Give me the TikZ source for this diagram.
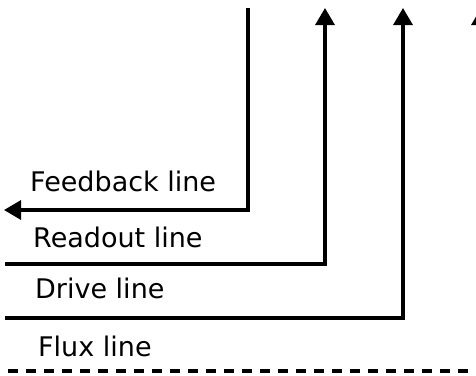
\documentclass[tikz,border=0pt]{standalone}
\usepackage{fontspec}
\setmainfont{DejaVu Sans}
\usetikzlibrary{arrows.meta}
\begin{document}
\begin{tikzpicture}[x=1pt,y=-1pt,
  wire/.style={line width=3.3pt},
  arr/.style={wire,-{Triangle[length=17pt,width=19pt]}},
  lbl/.style={anchor=base west,inner sep=0pt,font=\fontsize{27}{32}\selectfont}]
\useasboundingbox (0,0) rectangle (476,375);
\clip (0,0) rectangle (476,375);
% labels
\node[lbl] (fb) at (30,191) {Feedback line};
\node[lbl] (ro) at (33,247) {Readout line};
\node[lbl] (dr) at (35,298) {Drive line};
\node[lbl] (fx) at (38,356) {Flux line};
% coordinates
\coordinate (fbtop) at (248,8);
\coordinate (fbcorner) at (248,210);
\coordinate (fbend) at (4,210);
\coordinate (rostart) at (5,264);
\coordinate (rocorner) at (325,264);
\coordinate (rotop) at (325,8);
\coordinate (drstart) at (5,318);
\coordinate (drcorner) at (403,318);
\coordinate (drtop) at (403,8);
\coordinate (fxbot) at (481,100);
\coordinate (fxtop) at (481,8);
\coordinate (dashstart) at (8,371);
\coordinate (dashend) at (480,371);
% lines
\draw[arr] (fbtop) -- (fbcorner) -- (fbend);
\draw[arr] (rostart) -- (rocorner) -- (rotop);
\draw[arr] (drstart) -- (drcorner) -- (drtop);
\draw[arr] (fxbot) -- (fxtop);
\draw[wire,dash pattern=on 10pt off 8pt] (dashstart) -- (dashend);
\end{tikzpicture}
\end{document}
